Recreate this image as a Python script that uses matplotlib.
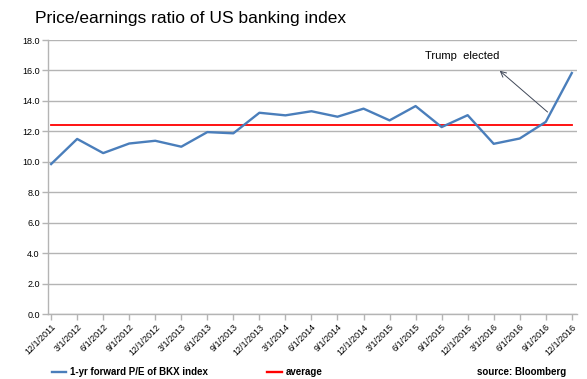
import matplotlib
from matplotlib import pyplot as plt
from matplotlib.lines import Line2D

matplotlib.use('Agg')

plt.rcParams['font.family'] = ['Liberation Sans', 'DejaVu Sans']

# quarterly dates
dates = ['12/1/2011', '3/1/2012', '6/1/2012', '9/1/2012', '12/1/2012',
         '3/1/2013', '6/1/2013', '9/1/2013', '12/1/2013', '3/1/2014',
         '6/1/2014', '9/1/2014', '12/1/2014', '3/1/2015', '6/1/2015',
         '9/1/2015', '12/1/2015', '3/1/2016', '6/1/2016', '9/1/2016',
         '12/1/2016']

# 1-yr forward P/E of BKX index
pe_values = [9.85, 11.5, 10.57, 11.2, 11.38, 10.99, 11.95, 11.87, 13.22, 13.05,
             13.32, 12.96, 13.49, 12.72, 13.66, 12.28, 13.06, 11.18, 11.53, 12.62,
             15.83]

# long-run average
avg_values = [12.42] * len(dates)

y_ticks = [0, 2, 4, 6, 8, 10, 12, 14, 16, 18]

BLUE = '#4a7ebb'
RED = '#ff0000'
GRID = '#b4b4b4'

fig = plt.figure(figsize=(5.87, 3.79), dpi=100)
ax = fig.add_axes([48 / 587, 65 / 379, 529 / 587, 274 / 379])

x = list(range(len(dates)))
ax.plot(x, avg_values, color=RED, linewidth=1.3, zorder=3)
ax.plot(x, pe_values, color=BLUE, linewidth=1.7, zorder=4)

ax.set_ylim(0, 18)
ax.set_xlim(-0.12, 20.2)
ax.set_yticks(y_ticks)
ax.set_yticklabels([f'{v:.1f}' for v in y_ticks], fontsize=6.5)
ax.set_xticks(x)
ax.set_xticklabels(dates, rotation=45, ha='right', rotation_mode='anchor', fontsize=6.5)

ax.yaxis.grid(True, color=GRID, linewidth=1.0)
ax.set_axisbelow(True)
for side in ['top', 'right']:
    ax.spines[side].set_visible(False)
for side in ['left', 'bottom']:
    ax.spines[side].set_color(GRID)
    ax.spines[side].set_linewidth(1.0)
ax.tick_params(axis='both', color=GRID, length=4, width=1.0, pad=2)

# annotation
ax.text(15.8, 16.95, 'Trump  elected', fontsize=8, ha='center', va='center')
ax.annotate('', xy=(17.15, 16.1), xytext=(19.15, 13.15),
            arrowprops=dict(arrowstyle='->', color='#404858', linewidth=0.7))

# title
fig.text(35 / 587, 1 - 19 / 379, 'Price/earnings ratio of US banking index',
         fontsize=12.5, va='center', ha='left')

# legend
handles = [Line2D([], [], color=BLUE, linewidth=1.7),
           Line2D([], [], color=RED, linewidth=1.7)]
fig.legend(handles, ['1-yr forward P/E of BKX index', 'average'],
           loc='center left', bbox_to_anchor=(43 / 587, 1 - 372 / 379),
           ncol=2, frameon=False, handlelength=1.5, handletextpad=0.4,
           columnspacing=6.1, prop={'size': 7, 'weight': 'bold'})
fig.text(566 / 587, 1 - 372 / 379, 'source: Bloomberg', fontsize=7,
         fontweight='bold', ha='right', va='center')

fig.savefig('out.png', dpi=100)
plt.close(fig)
